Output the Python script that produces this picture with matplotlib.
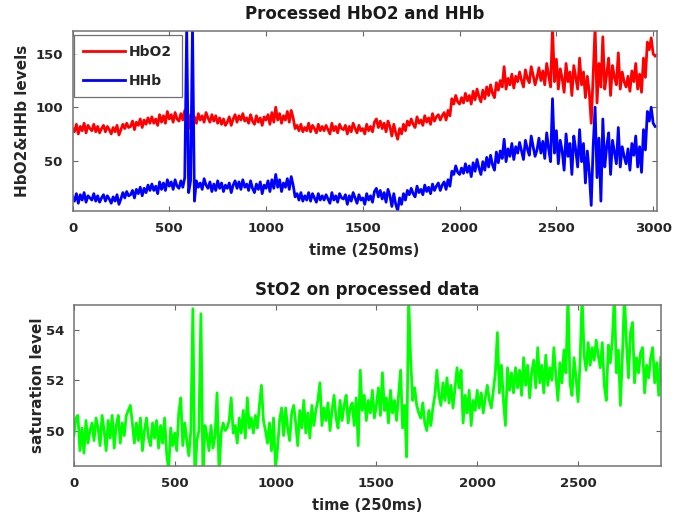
import numpy as np
import matplotlib
matplotlib.use("Agg")
import matplotlib.pyplot as plt

plt.rcParams['font.family'] = ['DejaVu Sans']
plt.rcParams['font.weight'] = 'bold'

step_top = 10
step_bottom = 10

hbo2 = [
    80, 77, 84, 75, 82, 78, 85, 76, 83, 80,
    78, 84, 77, 82, 76, 80, 83, 77, 82, 79,
    75, 81, 77, 83, 74, 79, 84, 80, 85, 81,
    82, 87, 79, 86, 83, 89, 81, 88, 84, 90,
    85, 91, 85, 89, 83, 93, 86, 92, 85, 96,
    89, 93, 86, 95, 89, 87, 94, 88, 97, 91,
    80, 93, 87, 91, 85, 94, 88, 92, 86, 95,
    90, 86, 93, 87, 92, 85, 90, 84, 89, 83,
    86, 91, 83, 89, 93, 86, 92, 88, 94, 87,
    90, 85, 93, 87, 84, 92, 86, 90, 83, 91,
    88, 93, 84, 95, 86, 100, 88, 94, 85, 92,
    88, 96, 86, 97, 90, 80, 83, 78, 84, 77,
    81, 78, 85, 77, 83, 80, 76, 84, 78, 82,
    78, 83, 79, 75, 85, 78, 82, 76, 84, 80,
    79, 83, 75, 82, 77, 85, 80, 76, 83, 78,
    80, 75, 84, 78, 82, 77, 86, 89, 81, 87,
    80, 85, 77, 87, 82, 73, 84, 76, 70, 80,
    75, 84, 78, 87, 83, 89, 84, 81, 91, 85,
    88, 83, 92, 86, 90, 84, 94, 87, 91, 93,
    88, 92, 95, 88, 97, 92, 108, 103, 111, 105,
    103, 109, 104, 113, 106, 111, 103, 115, 107, 117,
    110, 105, 116, 108, 119, 111, 121, 113, 109, 123,
    116, 125, 119, 138, 117, 127, 121, 131, 118, 129,
    124, 133, 125, 119, 135, 127, 123, 138, 130, 121,
    128, 137, 125, 134, 121, 141, 130, 119, 175, 124,
    145, 117, 136, 127, 114, 141, 124, 133, 111, 139,
    128, 117, 146, 121, 133, 109, 129, 114, 85, 131,
    175, 104, 141, 119, 166, 117, 131, 146, 111, 139,
    128, 121, 151, 117, 133, 124, 119, 129, 115, 134,
    124, 141, 117, 131, 114, 146, 128, 161, 154, 165,
    150, 148,
]

hhb = [
    16, 12, 19, 10, 18, 13, 20, 11, 17, 15,
    13, 19, 12, 17, 11, 15, 18, 12, 17, 14,
    10, 16, 12, 18, 9, 14, 20, 15, 21, 17,
    18, 22, 15, 23, 19, 25, 17, 24, 20, 27,
    22, 28, 22, 26, 19, 30, 23, 29, 22, 32,
    26, 30, 23, 32, 26, 24, 31, 25, 34, 175,
    20, 31, 175, 12, 31, 25, 29, 23, 33, 27,
    24, 30, 21, 28, 22, 31, 24, 29, 21, 27,
    24, 29, 20, 27, 31, 24, 30, 23, 32, 25,
    28, 22, 31, 24, 20, 28, 23, 30, 19, 27,
    24, 31, 21, 32, 24, 37, 25, 32, 21, 29,
    25, 33, 23, 35, 27, 16, 19, 13, 20, 12,
    17, 13, 20, 12, 19, 15, 11, 19, 13, 17,
    13, 18, 14, 10, 20, 13, 17, 11, 19, 15,
    14, 18, 9, 17, 12, 20, 15, 10, 18, 13,
    15, 9, 19, 13, 17, 11, 21, 24, 16, 22,
    14, 20, 11, 23, 17, 7, 19, 9, 3, 15,
    9, 19, 13, 22, 18, 24, 19, 16, 26, 20,
    23, 18, 27, 21, 25, 19, 28, 22, 26, 29,
    22, 27, 30, 23, 32, 26, 40, 37, 45, 39,
    37, 43, 38, 47, 39, 45, 35, 48, 40, 51,
    43, 37, 49, 41, 53, 44, 55, 46, 41, 58,
    48, 59, 52, 70, 49, 61, 54, 66, 51, 63,
    57, 67, 59, 51, 69, 61, 55, 73, 63, 54,
    60, 71, 57, 68, 52, 76, 61, 49, 108, 57,
    78, 47, 69, 59, 41, 75, 54, 66, 37, 73,
    60, 44, 79, 49, 66, 29, 59, 39, 8, 63,
    100, 34, 71, 12, 89, 44, 63, 76, 37, 69,
    58, 47, 81, 44, 63, 54, 47, 61, 41, 66,
    55, 73, 44, 63, 39, 79, 60, 96, 87, 100,
    85, 82,
]

sto2 = [
    49.8, 50.5, 50.6, 49.2, 50.1, 49.1, 50.4, 49.5, 50.0, 50.3,
    49.6, 50.5, 50.1, 49.4, 50.6, 50.0, 49.2, 50.4, 49.7, 50.6,
    49.3, 50.2, 50.6, 49.5, 50.3, 49.8, 50.6, 50.8, 51.0, 50.3,
    49.5, 50.3, 49.6, 50.5, 49.2, 50.0, 50.5, 49.7, 49.4, 50.3,
    49.7, 50.4, 49.3, 50.2, 49.5, 50.5, 49.1, 48.4, 50.1, 49.4,
    49.9, 49.2, 50.7, 51.3, 49.4, 50.3, 49.6, 49.0, 50.0, 54.85,
    48.0, 49.6, 50.0, 54.65, 48.2, 50.2, 49.8, 49.2, 50.2, 49.3,
    49.8, 51.5, 48.3, 49.9, 50.3, 50.0, 50.1, 50.4, 51.3, 49.9,
    50.2, 49.5, 50.5, 49.9, 50.8, 49.7, 51.3, 50.1, 50.5, 49.9,
    50.6, 50.1, 51.0, 51.8, 50.4, 50.0, 49.5, 50.3, 49.2, 50.5,
    48.5, 49.3, 50.4, 50.9, 49.8, 50.9, 50.1, 49.6, 50.7, 51.0,
    50.3, 49.4, 50.8, 50.1, 51.2, 49.9, 50.7, 49.7, 51.0, 50.2,
    50.8, 51.2, 51.9, 50.2, 50.9, 50.4, 51.1, 50.0, 50.8, 51.4,
    50.5, 50.1, 51.2, 50.4, 51.0, 51.4, 50.3, 50.9, 51.1, 50.2,
    51.3, 49.4, 52.4, 50.8, 51.4, 50.4, 51.2, 50.7, 51.6, 50.5,
    51.0, 51.7, 50.6, 52.3, 50.8, 51.3, 50.3, 51.6, 50.7, 51.2,
    50.4, 51.4, 52.4, 50.1, 51.0, 48.95, 55.3, 52.8, 51.2, 51.7,
    51.0, 50.7, 50.5, 51.1, 50.3, 50.0, 50.8, 50.2, 50.9, 51.4,
    52.4, 51.4, 51.0, 51.9, 51.2, 52.1, 51.1, 51.8, 50.9, 51.7,
    52.5, 51.7, 52.4, 50.3, 51.4, 50.7, 51.6, 50.2, 51.2, 50.8,
    51.6, 50.9, 51.5, 50.7, 51.3, 51.8, 51.2, 50.9, 51.6, 52.3,
    53.9, 51.5, 52.6, 51.2, 50.2, 52.5, 51.6, 52.3, 51.5, 52.5,
    51.7, 52.4, 51.4, 52.9, 51.8, 52.6, 51.3, 52.3, 52.8, 51.7,
    53.3, 51.9, 52.6, 51.5, 53.0, 51.8, 52.5, 52.0, 53.3, 52.2,
    51.2, 52.7, 51.9, 53.2, 52.3, 55.4, 51.9, 51.4, 52.9, 52.1,
    51.15, 52.7, 55.4, 53.0, 52.4, 53.5, 52.6, 53.3, 52.8, 53.6,
    53.0, 52.5, 53.5, 51.8, 51.2, 53.4, 52.7, 53.6, 55.4, 52.3,
    53.2, 51.0, 53.0, 55.4, 53.5, 52.1, 53.9, 54.3, 51.9, 52.9,
    52.3, 53.1, 53.3, 51.5, 52.6, 52.1, 52.9, 53.3, 51.9, 52.7,
    51.4, 52.9,
]

top_xticks = [0, 500, 1000, 1500, 2000, 2500, 3000]
top_yticks = [50, 100, 150]
bot_xticks = [0, 500, 1000, 1500, 2000, 2500]
bot_yticks = [50, 52, 54]

t_top = np.arange(len(hbo2)) * step_top
t_bot = np.arange(len(sto2)) * step_bottom

fig = plt.figure(figsize=(6.84, 5.16), dpi=100)
ax1 = fig.add_axes([0.106, 0.591, 0.854, 0.348])
ax2 = fig.add_axes([0.108, 0.0975, 0.858, 0.3115])

tick_fs = 9.5
lab_fs = 10.5
title_fs = 12
txt_col = '0.15'

def style(ax):
    ax.tick_params(direction='in', length=3.5, width=0.8, top=True, right=True,
                   labelsize=tick_fs, color='0.4')
    ax.tick_params(axis='x', pad=8)
    ax.tick_params(axis='y', pad=7)
    for s in ax.spines.values():
        s.set_color('0.45')
        s.set_linewidth(1.1)
    for lab in ax.get_xticklabels() + ax.get_yticklabels():
        lab.set_fontweight('bold')
        lab.set_color(txt_col)

ax1.plot(t_top, hbo2, color='#ff0000', lw=2, label='HbO2')
ax1.plot(t_top, hhb, color='#0000ff', lw=2, label='HHb')
ax1.set_xlim(0, 3018)
ax1.set_ylim(2.7, 171)
ax1.set_xticks(top_xticks)
ax1.set_yticks(top_yticks)
ax1.set_title('Processed HbO2 and HHb', fontsize=title_fs, fontweight='bold', pad=9, color='0.1')
ax1.set_xlabel('time (250ms)', fontsize=lab_fs, fontweight='bold', color=txt_col, labelpad=6)
ax1.set_ylabel('HbO2&HHb levels', fontsize=11, fontweight='bold', color=txt_col)
ax1.yaxis.set_label_coords(-0.072, 0.5)
style(ax1)
leg = ax1.legend(loc='upper left', bbox_to_anchor=(0.002, 0.979), fontsize=10,
                 frameon=True, fancybox=False, edgecolor='0.3', handlelength=3.0,
                 borderaxespad=0.0, labelspacing=1.05, handletextpad=0.3, borderpad=0.7)
leg.get_frame().set_linewidth(0.9)
for txt in leg.get_texts():
    txt.set_fontweight('bold')
    txt.set_color(txt_col)

ax2.plot(t_bot, sto2, color='#00ff00', lw=2)
ax2.set_xlim(0, 2910)
ax2.set_ylim(48.6, 55)
ax2.set_xticks(bot_xticks)
ax2.set_yticks(bot_yticks)
ax2.set_title('StO2 on processed data', fontsize=title_fs, fontweight='bold', pad=7, color='0.1')
ax2.set_xlabel('time (250ms)', fontsize=lab_fs, fontweight='bold', color=txt_col, labelpad=6)
ax2.set_ylabel('saturation level', fontsize=11, fontweight='bold', color=txt_col)
ax2.yaxis.set_label_coords(-0.05, 0.5)
style(ax2)

fig.savefig('out.png', dpi=100)
